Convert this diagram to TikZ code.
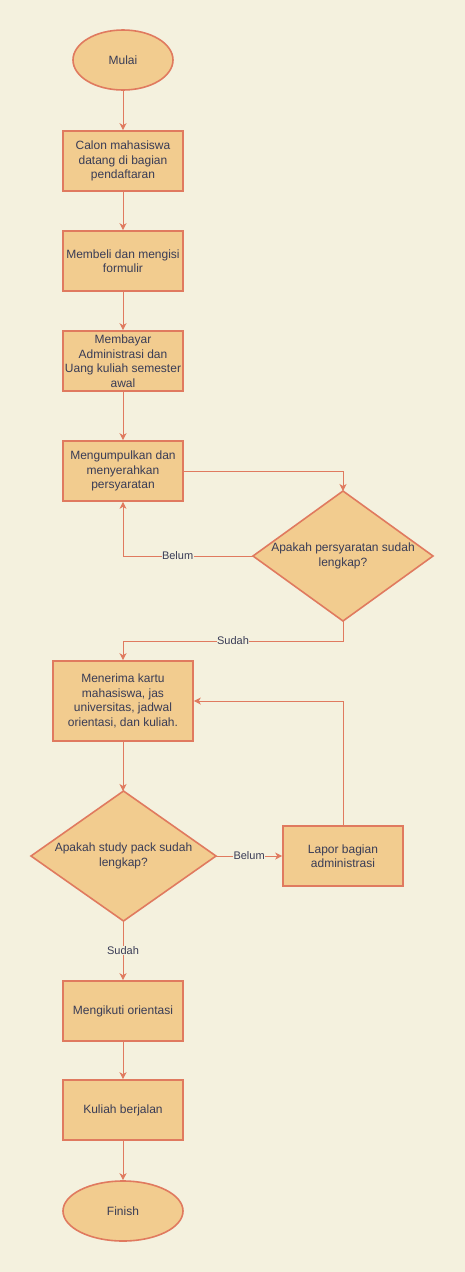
\documentclass[tikz,border=0pt]{standalone}
\usepackage{fontspec}
\setmainfont{Liberation Sans}
\usetikzlibrary{shapes.geometric,arrows.meta}
\definecolor{bgc}{HTML}{F4F1DE}
\definecolor{fillc}{HTML}{F2CC8F}
\definecolor{linec}{HTML}{E07A5F}
\definecolor{txtc}{HTML}{393C56}
\begin{document}
\begin{tikzpicture}[x=1pt,y=-1pt,
  every node/.style={font=\fontsize{12}{14.5}\selectfont, text=txtc, align=center, inner sep=0pt},
  proc/.style={rectangle, draw=linec, fill=fillc, line width=1.6pt, minimum width=120pt, minimum height=60pt},
  term/.style={ellipse, draw=linec, fill=fillc, line width=1.6pt, minimum width=100pt, minimum height=60pt},
  conn/.style={draw=linec, line width=0.9pt, -{Stealth[length=7pt,width=7pt,inset=2pt]}},
  lbl/.style={fill=bgc, font=\fontsize{11}{13}\selectfont, inner sep=0.5pt}
]
\fill[bgc] (0,0) rectangle (465,1272);
\useasboundingbox (0,0) rectangle (465,1272);

\node[term] (mulai) at (123,60) {Mulai};
\node[proc] (calon) at (123,161) {Calon mahasiswa\\datang di bagian\\pendaftaran};
\node[proc] (beli) at (123,261) {Membeli dan mengisi\\formulir};
\node[proc] (bayar) at (123,361) {Membayar\\Administrasi dan\\Uang kuliah semester\\awal};
\node[proc] (kumpul) at (123,471) {Mengumpulkan dan\\menyerahkan\\persyaratan};
\path[draw=linec, fill=fillc, line width=1.6pt] (253,556) -- (343,491) -- (433,556) -- (343,621) -- cycle;
\node (syarat) at (343,556) {Apakah persyaratan sudah\\lengkap?};
\coordinate (syaratT) at (343,491);
\coordinate (syaratL) at (253,556);
\coordinate (syaratB) at (343,621);
\node[proc, minimum width=140pt, minimum height=80pt] (terima) at (123,701) {Menerima kartu\\mahasiswa, jas\\universitas, jadwal\\orientasi, dan kuliah.};
\path[draw=linec, fill=fillc, line width=1.6pt] (31,856) -- (123.5,791) -- (216,856) -- (123.5,921) -- cycle;
\node (pack) at (123.5,856) {Apakah study pack sudah\\lengkap?};
\coordinate (packT) at (123,791);
\coordinate (packR) at (216,856);
\coordinate (packB) at (123,921);
\node[proc] (lapor) at (343,856) {Lapor bagian\\administrasi};
\node[proc] (orient) at (123,1011) {Mengikuti orientasi};
\node[proc] (jalan) at (123,1110) {Kuliah berjalan};
\node[term, minimum width=120pt] (finish) at (123,1211) {Finish};

\draw[conn] (mulai) -- (calon);
\draw[conn] (calon) -- (beli);
\draw[conn] (beli) -- (bayar);
\draw[conn] (bayar) -- (kumpul);
\draw[conn] (kumpul.east) -| (syaratT);
\draw[conn] (syaratL) -| node[lbl, pos=0.29] {Belum} (kumpul.south);
\draw[conn] (syaratB) -- (343,641) -- node[lbl, pos=0.5] {Sudah} (123,641) -- (terima.north);
\draw[conn] (terima.south) -- (packT);
\draw[conn] (packR) -- node[lbl, pos=0.5] {Belum} (lapor.west);
\draw[conn] (lapor.north) |- (terima.east);
\draw[conn] (packB) -- node[lbl, pos=0.5] {Sudah} (orient.north);
\draw[conn] (orient) -- (jalan);
\draw[conn] (jalan) -- (finish);
\end{tikzpicture}
\end{document}
